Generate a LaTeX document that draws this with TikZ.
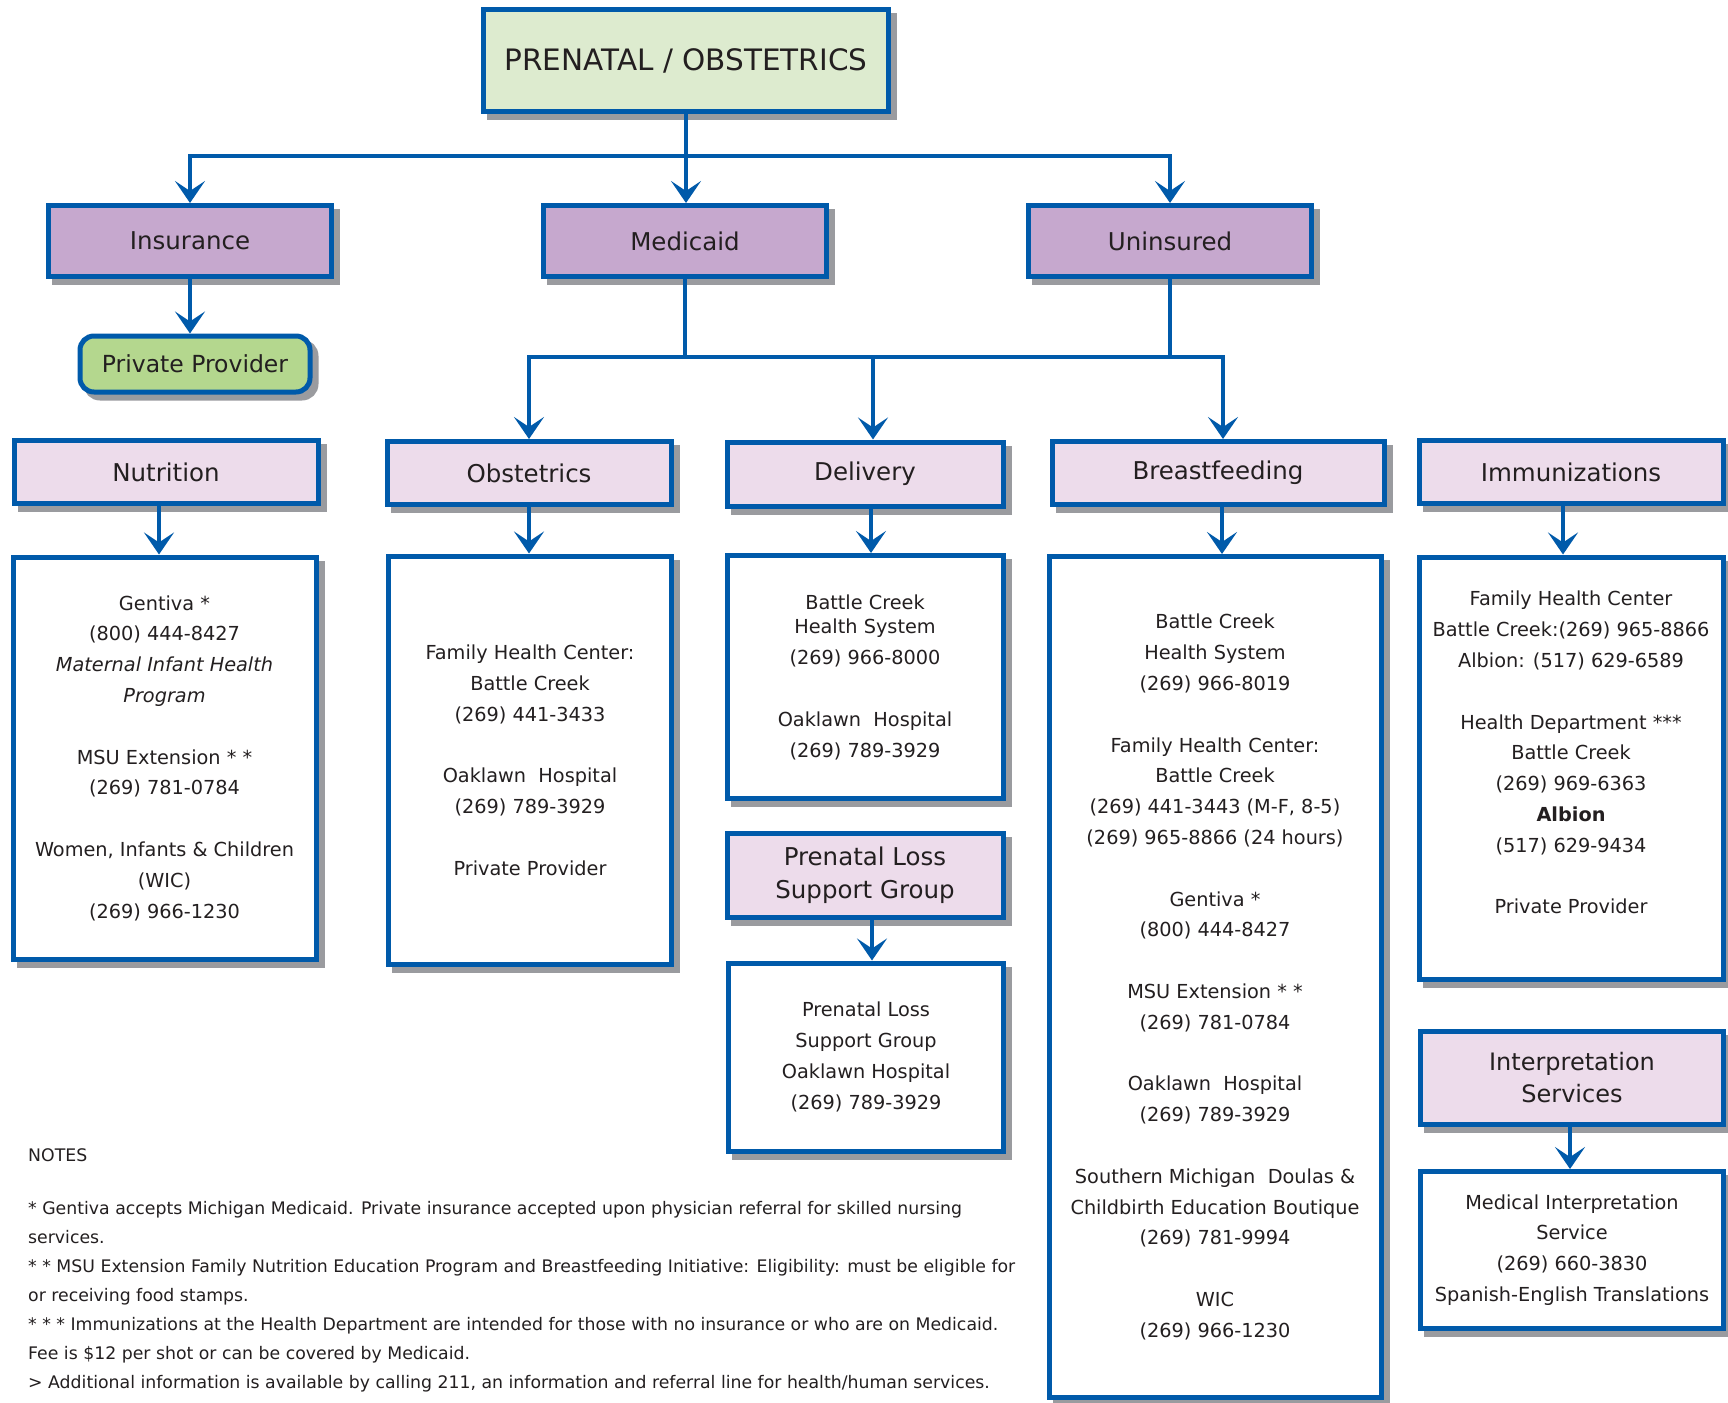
\documentclass[tikz,border=0pt]{standalone}
\usepackage{fontspec}
\setmainfont{DejaVu Sans}
\usetikzlibrary{arrows.meta,positioning,shadows}

\definecolor{lineblue}{HTML}{005AAA}
\definecolor{headgreen}{HTML}{DDEBCF}
\definecolor{groupviolet}{HTML}{C6A8CE}
\definecolor{provgreen}{HTML}{B4D78E}
\definecolor{catpink}{HTML}{EDDCEB}
\definecolor{shadegray}{HTML}{9A9B9F}
\definecolor{inkgray}{HTML}{231F20}

\begin{document}
\begin{tikzpicture}[x=1pt,y=-1pt,
boxbase/.style={draw=lineblue,line width=5pt,inner sep=0pt,align=center,text=inkgray,
    drop shadow={shadow xshift=6pt,shadow yshift=-6pt,fill=shadegray,draw=shadegray,opacity=1}},
headbox/.style={boxbase,fill=headgreen,minimum width=405pt,minimum height=102pt,font=\fontsize{29.5}{34}\selectfont},
groupbox/.style={boxbase,fill=groupviolet,minimum width=283pt,minimum height=71pt,font=\fontsize{24.5}{30}\selectfont},
provbox/.style={boxbase,fill=provgreen,rounded corners=14pt,minimum width=230pt,minimum height=56pt,font=\fontsize{23.5}{28}\selectfont},
catbox/.style={boxbase,fill=catpink,minimum height=63pt,font=\fontsize{24.5}{33}\selectfont},
infobox/.style={boxbase,fill=white,font=\fontsize{19.3}{30.8}\selectfont},
notes/.style={align=left,inner sep=0pt,text=inkgray,font=\fontsize{17.3}{28.9}\selectfont},
link/.style={draw=lineblue,line width=4.5pt},
>={Stealth[length=22pt,width=30pt,inset=10pt]}]

\path[use as bounding box,fill=white] (0,0) rectangle (1728,1402);

% top levels
\node[headbox] (title) at (686,61) {PRENATAL / OBSTETRICS};
\node[groupbox] (ins) at (190,241) {Insurance};
\node[groupbox] (medi) at (685,241) {Medicaid};
\node[groupbox] (unins) at (1170,241) {Uninsured};
\node[provbox] (priv) at (195,364) {Private Provider};

% service headings
\node[catbox,minimum width=304pt] (nutr) at (166,472) {Nutrition};
\node[catbox,minimum width=284pt] (obst) at (529,473) {Obstetrics};
\node[catbox,minimum width=276pt,minimum height=64pt] (deliv) at (865,474) {Delivery};
\node[catbox,minimum width=332pt] (breast) at (1218,473) {Breastfeeding};
\node[catbox,minimum width=304pt] (immun) at (1571,472) {Immunizations};
\node[catbox,minimum width=276pt,minimum height=84pt] (lossc) at (865,875) {Prenatal Loss\\Support Group};
\node[catbox,minimum width=303pt,minimum height=93pt,font=\fontsize{24}{32}\selectfont] (interp) at (1572,1078) {Interpretation\\Services};

% contact boxes
\node[infobox,minimum width=303pt,minimum height=402pt] (nutrd) at (164.5,758) {Gentiva *\\(800) 444-8427\\\textit{Maternal Infant Health}\\\textit{Program}\\[30.8pt]MSU Extension * *\\(269) 781-0784\\[30.8pt]Women, Infants \& Children\\(WIC)\\(269) 966-1230};
\node[infobox,minimum width=283pt,minimum height=408pt] (obstd) at (530,760) {Family Health Center:\\Battle Creek\\(269) 441-3433\\[30.8pt]Oaklawn~ Hospital\\(269) 789-3929\\[30.8pt]Private Provider};
\node[infobox,minimum width=276pt,minimum height=243pt] (delivd) at (865,677) {Battle Creek\\[-6pt]Health System\\(269) 966-8000\\[30.8pt]Oaklawn~ Hospital\\(269) 789-3929};
\node[infobox,minimum width=275pt,minimum height=188pt] (lossd) at (866,1057) {Prenatal Loss\\Support Group\\Oaklawn Hospital\\(269) 789-3929};
\node[infobox,minimum width=332pt,minimum height=841pt] (breastd) at (1215,977) {Battle Creek\\Health System\\(269) 966-8019\\[30.8pt]Family Health Center:\\Battle Creek\\(269) 441-3443 (M-F, 8-5)\\(269) 965-8866 (24 hours)\\[30.8pt]Gentiva *\\(800) 444-8427\\[30.8pt]MSU Extension * *\\(269) 781-0784\\[30.8pt]Oaklawn~ Hospital\\(269) 789-3929\\[30.8pt]Southern Michigan~ Doulas \&\\Childbirth Education Boutique\\(269) 781-9994\\[30.8pt]WIC\\(269) 966-1230};
\node[infobox,minimum width=304pt,minimum height=422pt] (immund) at (1571,768) {Family Health Center\\Battle Creek:(269) 965-8866\\Albion: (517) 629-6589\\[30.8pt]Health Department ***\\Battle Creek\\(269) 969-6363\\\textbf{Albion}\\(517) 629-9434\\[30.8pt]Private Provider\\ \mbox{}};
\node[infobox,minimum width=303pt,minimum height=157pt] (interpd) at (1572,1250) {Medical Interpretation\\Service\\(269) 660-3830\\Spanish-English Translations};

% connectors
\coordinate (busa) at (0,156);
\coordinate (busb) at (0,357);
\draw[link,->] (title.south) -- (title.south |- medi.north);
\draw[link,->] (title.south |- busa) -| (ins.north);
\draw[link,->] (title.south |- busa) -| (unins.north);
\draw[link,->] (ins.south) -- (ins.south |- priv.north);
\draw[link] (medi.south) -- (medi.south |- busb);
\draw[link] (unins.south) -- (unins.south |- busb);
\draw[link] (medi.south |- busb) -- (unins.south |- busb);
\draw[link,->] (medi.south |- busb) -| (obst.north);
\draw[link,->] (unins.south |- busb) -| ([xshift=5pt]breast.north);
\draw[link,->] ([xshift=8pt]deliv.north |- busb) -- ([xshift=8pt]deliv.north);
\foreach \from/\to/\dx in {nutr/nutrd/-7,obst/obstd/0,deliv/delivd/6,breast/breastd/4,immun/immund/-8,lossc/lossd/7,interp/interpd/-2}
\draw[link,->] ([xshift=\dx pt]\from.south) -- ([xshift=\dx pt]\from.south |- \to.north);

% notes
\node[notes,anchor=north west] (notelist) at (28,1148) {NOTES\\[25pt]* Gentiva accepts Michigan Medicaid. Private insurance accepted upon physician referral for skilled nursing\\services.\\* * MSU Extension Family Nutrition Education Program and Breastfeeding Initiative: Eligibility: must be eligible for\\or receiving food stamps.\\* * * Immunizations at the Health Department are intended for those with no insurance or who are on Medicaid.\\Fee is \$12 per shot or can be covered by Medicaid.\\> Additional information is available by calling 211, an information and referral line for health/human services.};
\end{tikzpicture}
\end{document}
